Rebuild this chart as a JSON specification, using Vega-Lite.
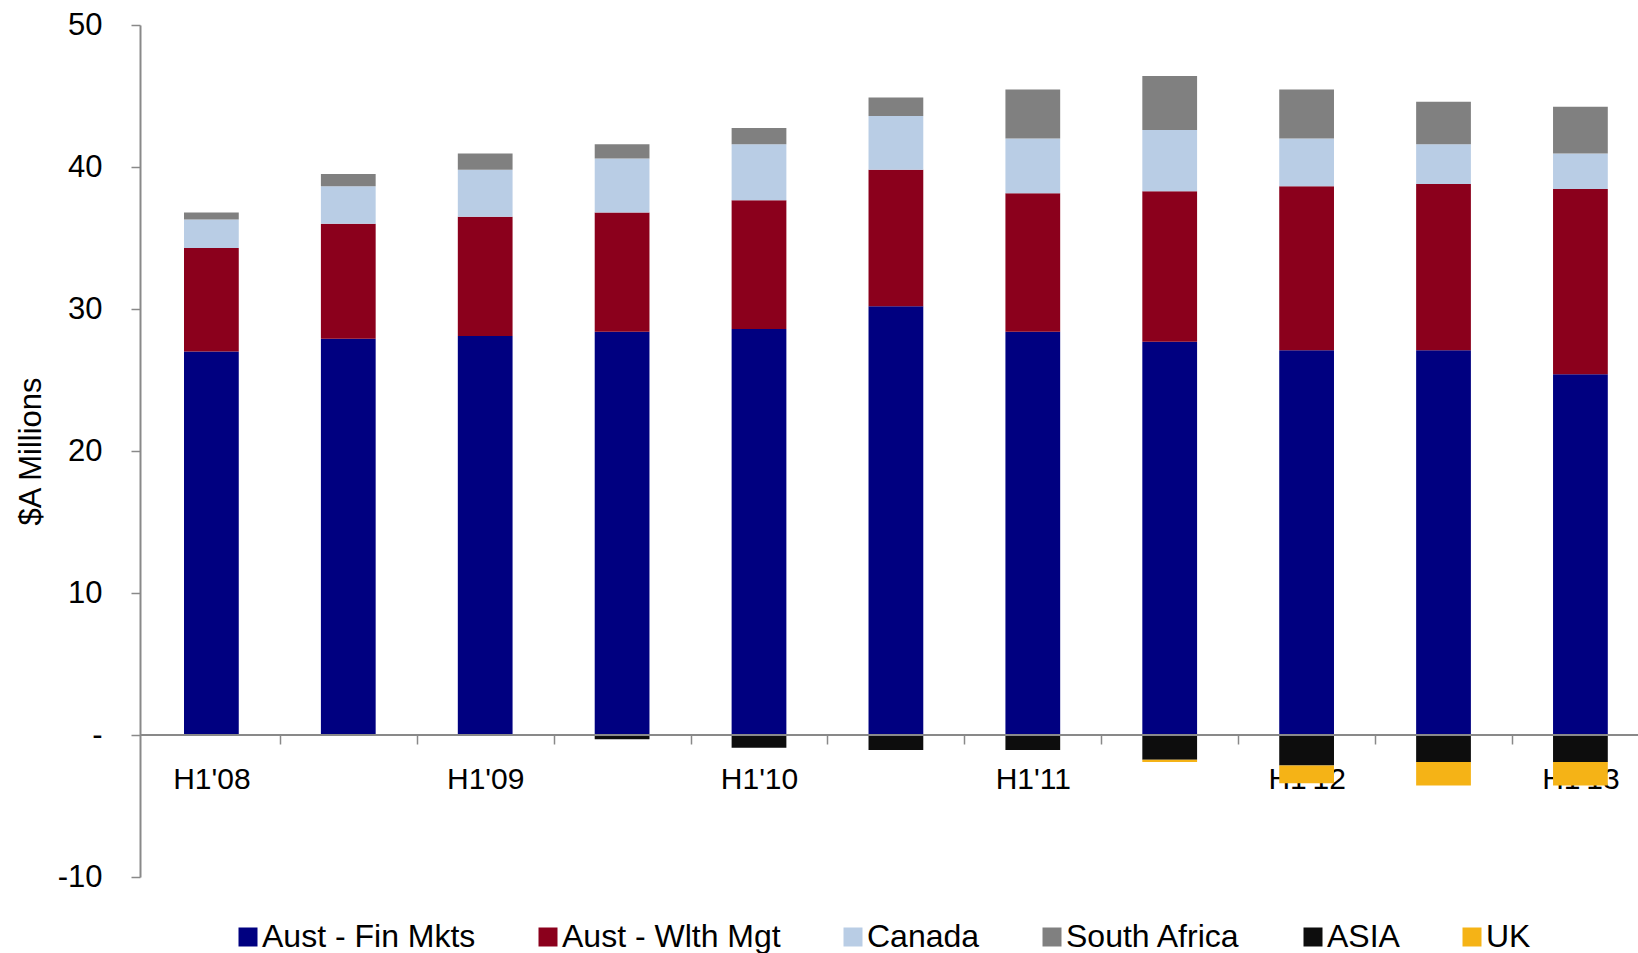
{
  "$schema": "https://vega.github.io/schema/vega-lite/v6.json",
  "width": 1498,
  "height": 852,
  "autosize": {"type": "none"},
  "padding": {"left": 140, "top": 25, "right": 0, "bottom": 76},
  "background": "white",
  "config": {"view": {"stroke": null}, "font": "Liberation Sans"},
  "data": {"values": [
    {"period": "H1'08", "series": "Aust - Fin Mkts", "value": 27.0, "order": 1},
    {"period": "H1'08", "series": "Aust - Wlth Mgt", "value": 7.3, "order": 2},
    {"period": "H1'08", "series": "Canada", "value": 2.0, "order": 3},
    {"period": "H1'08", "series": "South Africa", "value": 0.5, "order": 4},
    {"period": "H2'08", "series": "Aust - Fin Mkts", "value": 27.9, "order": 1},
    {"period": "H2'08", "series": "Aust - Wlth Mgt", "value": 8.1, "order": 2},
    {"period": "H2'08", "series": "Canada", "value": 2.65, "order": 3},
    {"period": "H2'08", "series": "South Africa", "value": 0.85, "order": 4},
    {"period": "H1'09", "series": "Aust - Fin Mkts", "value": 28.1, "order": 1},
    {"period": "H1'09", "series": "Aust - Wlth Mgt", "value": 8.4, "order": 2},
    {"period": "H1'09", "series": "Canada", "value": 3.3, "order": 3},
    {"period": "H1'09", "series": "South Africa", "value": 1.15, "order": 4},
    {"period": "H2'09", "series": "Aust - Fin Mkts", "value": 28.4, "order": 1},
    {"period": "H2'09", "series": "Aust - Wlth Mgt", "value": 8.4, "order": 2},
    {"period": "H2'09", "series": "Canada", "value": 3.8, "order": 3},
    {"period": "H2'09", "series": "South Africa", "value": 1.0, "order": 4},
    {"period": "H2'09", "series": "ASIA", "value": -0.3, "order": 5},
    {"period": "H1'10", "series": "Aust - Fin Mkts", "value": 28.6, "order": 1},
    {"period": "H1'10", "series": "Aust - Wlth Mgt", "value": 9.05, "order": 2},
    {"period": "H1'10", "series": "Canada", "value": 3.95, "order": 3},
    {"period": "H1'10", "series": "South Africa", "value": 1.15, "order": 4},
    {"period": "H1'10", "series": "ASIA", "value": -0.9, "order": 5},
    {"period": "H2'10", "series": "Aust - Fin Mkts", "value": 30.2, "order": 1},
    {"period": "H2'10", "series": "Aust - Wlth Mgt", "value": 9.6, "order": 2},
    {"period": "H2'10", "series": "Canada", "value": 3.8, "order": 3},
    {"period": "H2'10", "series": "South Africa", "value": 1.3, "order": 4},
    {"period": "H2'10", "series": "ASIA", "value": -1.05, "order": 5},
    {"period": "H1'11", "series": "Aust - Fin Mkts", "value": 28.4, "order": 1},
    {"period": "H1'11", "series": "Aust - Wlth Mgt", "value": 9.75, "order": 2},
    {"period": "H1'11", "series": "Canada", "value": 3.85, "order": 3},
    {"period": "H1'11", "series": "South Africa", "value": 3.45, "order": 4},
    {"period": "H1'11", "series": "ASIA", "value": -1.05, "order": 5},
    {"period": "H2'11", "series": "Aust - Fin Mkts", "value": 27.7, "order": 1},
    {"period": "H2'11", "series": "Aust - Wlth Mgt", "value": 10.6, "order": 2},
    {"period": "H2'11", "series": "Canada", "value": 4.3, "order": 3},
    {"period": "H2'11", "series": "South Africa", "value": 3.8, "order": 4},
    {"period": "H2'11", "series": "ASIA", "value": -1.75, "order": 5},
    {"period": "H2'11", "series": "UK", "value": -0.15, "order": 6},
    {"period": "H1'12", "series": "Aust - Fin Mkts", "value": 27.1, "order": 1},
    {"period": "H1'12", "series": "Aust - Wlth Mgt", "value": 11.55, "order": 2},
    {"period": "H1'12", "series": "Canada", "value": 3.35, "order": 3},
    {"period": "H1'12", "series": "South Africa", "value": 3.45, "order": 4},
    {"period": "H1'12", "series": "ASIA", "value": -2.15, "order": 5},
    {"period": "H1'12", "series": "UK", "value": -1.25, "order": 6},
    {"period": "H2'12", "series": "Aust - Fin Mkts", "value": 27.1, "order": 1},
    {"period": "H2'12", "series": "Aust - Wlth Mgt", "value": 11.7, "order": 2},
    {"period": "H2'12", "series": "Canada", "value": 2.8, "order": 3},
    {"period": "H2'12", "series": "South Africa", "value": 3.0, "order": 4},
    {"period": "H2'12", "series": "ASIA", "value": -1.9, "order": 5},
    {"period": "H2'12", "series": "UK", "value": -1.65, "order": 6},
    {"period": "H1'13", "series": "Aust - Fin Mkts", "value": 25.4, "order": 1},
    {"period": "H1'13", "series": "Aust - Wlth Mgt", "value": 13.05, "order": 2},
    {"period": "H1'13", "series": "Canada", "value": 2.5, "order": 3},
    {"period": "H1'13", "series": "South Africa", "value": 3.3, "order": 4},
    {"period": "H1'13", "series": "ASIA", "value": -1.9, "order": 5},
    {"period": "H1'13", "series": "UK", "value": -1.65, "order": 6}
  ]},
  "layer": [
    {
      "mark": {"type": "bar"},
      "encoding": {
        "x": {
          "field": "period", "type": "nominal", "sort": null,
          "scale": {"paddingInner": 0.6, "paddingOuter": 0.271, "align": 0.593},
          "axis": {
            "title": null, "orient": "bottom", "offset": -142,
            "domain": false, "ticks": true, "tickSize": 9,
            "tickOffset": 68.45, "labelOffset": -68.45,
            "tickColor": "#898989", "tickWidth": 1.5,
            "labelExpr": "slice(datum.label, 0, 2) == 'H1' ? datum.label : ''",
            "labelAngle": 0, "labelFontSize": 30, "labelColor": "#000000",
            "labelPadding": 20, "labelOverlap": false, "labelFont": "Liberation Sans"
          }
        },
        "y": {
          "field": "value", "type": "quantitative", "stack": "zero",
          "scale": {"domain": [-10, 50], "nice": false, "zero": false},
          "axis": {
            "title": "$A Millions", "values": [-10, 0, 10, 20, 30, 40, 50],
            "labelExpr": "datum.value == 0 ? '-  ' : replace(datum.label, '−', '-')",
            "labelFontSize": 31, "labelColor": "#000000", "labelPadding": 29,
            "labelFont": "Liberation Sans",
            "tickSize": 9, "tickColor": "#898989", "tickWidth": 1.5,
            "domainColor": "#898989", "domainWidth": 2, "grid": false,
            "titleFontSize": 31, "titleFontWeight": "normal", "titleColor": "#000000",
            "titleFont": "Liberation Sans", "titlePadding": 10
          }
        },
        "color": {
          "field": "series", "type": "nominal",
          "scale": {
            "domain": ["Aust - Fin Mkts", "Aust - Wlth Mgt", "Canada", "South Africa", "ASIA", "UK"],
            "range": ["#000080", "#8B001C", "#B9CDE5", "#808080", "#0D0D0D", "#F5B316"]
          },
          "legend": {
            "orient": "none", "legendX": 92, "legendY": 896, "direction": "horizontal",
            "title": null, "symbolType": "square", "symbolSize": 361,
            "symbolStrokeWidth": 0, "symbolOpacity": 1,
            "labelFontSize": 32, "labelOffset": -2, "columnPadding": 56,
            "labelLimit": 500, "labelColor": "#000000", "labelFont": "Liberation Sans"
          }
        },
        "order": {"field": "order", "type": "quantitative"}
      }
    },
    {
      "mark": {"type": "rule", "color": "#898989", "strokeWidth": 2},
      "encoding": {"y": {"datum": 0, "type": "quantitative"}}
    }
  ]
}
